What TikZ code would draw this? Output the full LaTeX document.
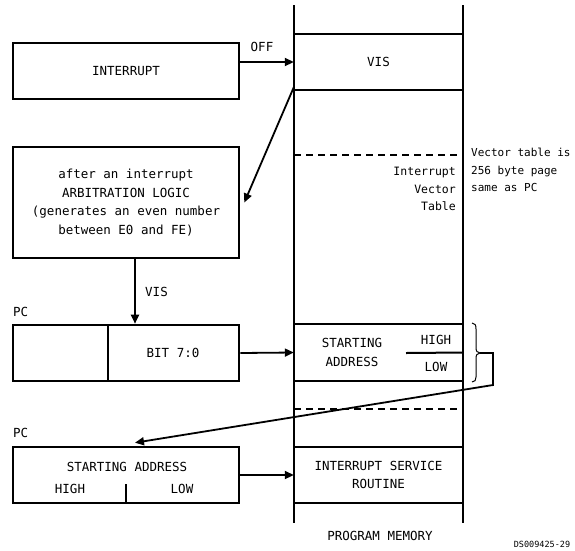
\documentclass[tikz,border=0pt]{standalone}
\usepackage{fontspec}
\setmonofont{DejaVu Sans Mono}
\usetikzlibrary{arrows.meta,calc}
\newcommand\myfontA{\ttfamily\fontsize{12.5}{18.5}\selectfont}
\newcommand\myfontB{\ttfamily\fontsize{11.5}{17.5}\selectfont}
\newcommand\myfontD{\ttfamily\fontsize{11}{17.5}\selectfont}
\newcommand\myfontC{\ttfamily\fontsize{8.5}{10}\selectfont}
\begin{document}
\begin{tikzpicture}[x=1pt,y=-1pt,
  box/.style={draw,line width=2.6pt,rectangle,inner sep=0pt,minimum width=226pt,font=\myfontA},
  cell/.style={rectangle,inner sep=0pt,minimum width=169pt,font=\myfontA},
  txt/.style={font=\myfontA,inner sep=0pt,text height=9.5pt,text depth=0pt},
  small/.style={font=\myfontB,inner sep=0pt},
  memline/.style={line width=2pt},
  memwall/.style={line width=2.8pt},
  arr/.style={line width=1.8pt,-{Triangle[length=9pt,width=8pt]}},
  thinline/.style={line width=1pt},
]
\useasboundingbox (0,0) rectangle (575,550);

% memory column walls
\draw[memwall] (294,5) -- (294,523);
\draw[memwall] (463,5) -- (463,523);

% memory cells
\node[cell,minimum height=56pt] (vis) at (378.5,62) {VIS};
\draw[memline] (vis.north west) -- (vis.north east);
\draw[memline] (vis.south west) -- (vis.south east);
\draw[memline,dash pattern=on 7pt off 5pt] (294,155) -- (463,155);
\node[small,align=right,anchor=east] (ivt) at (456,189) {Interrupt\\Vector\\Table};
\node[font=\myfontD,inner sep=0pt,align=left,anchor=west] (note) at (471,170) {Vector table is\\256 byte page\\same as PC};

\node[cell,minimum height=57pt] (sa) at (378.5,352.5) {};
\draw[memline] (sa.north west) -- (sa.north east);
\draw[memline] (sa.south west) -- (sa.south east);
\node[txt] (sat1) at (352,343) {STARTING};
\node[txt] (sat2) at (352,362) {ADDRESS};
\node[txt] (sahi) at (436,340) {HIGH};
\node[txt] (salo) at (436,367) {LOW};
\draw[memline] (406,353) -- (sa.east);
\draw[memline,dash pattern=on 7pt off 5pt] (294,409) -- (463,409);

\node[cell,minimum height=56pt,align=center] (isr) at (378.5,475) {INTERRUPT SERVICE\\ROUTINE};
\draw[memline] (isr.north west) -- (isr.north east);
\draw[memline] (isr.south west) -- (isr.south east);
\node[txt] (pm) at (380,536) {PROGRAM MEMORY};
\node[font=\myfontC,inner sep=0pt] (ds) at (542,544) {DS009425-29};

% left boxes
\node[box,minimum height=56pt] (intr) at (126,71) {INTERRUPT};
\node[box,minimum height=111pt,align=center] (arb) at (126,202.5)
  {after an interrupt\\ARBITRATION LOGIC\\(generates an even number\\between E0 and FE)};
\node[txt,anchor=west] (pcl1) at (13,312) {PC};
\node[box,minimum height=56pt] (pc1) at (126,353) {};
\draw[line width=2pt] (108,325) -- (108,381);
\node[txt] (bit) at (173,353) {BIT 7:0};
\node[txt,anchor=west] (pcl2) at (13,433) {PC};
\node[box,minimum height=56pt] (pc2) at (126,475) {};
\node[txt] (sa2) at (127,467) {STARTING ADDRESS};
\node[txt] (hi2) at (70,489) {HIGH};
\node[txt] (lo2) at (182,489) {LOW};
\draw[line width=2pt] (126,484) -- (126,503);

% connectors
\draw[arr] (intr.east |- vis.west) -- (vis.west);
\node[txt] (off) at (262,47) {OFF};
\draw[arr] ($(vis.south west)+(0,-3)$) -- ($(arb.east)+(4,0)$);
\draw[arr] ($(arb.south)+(9,0)$) -- ($(pc1.north)+(9,0)$);
\node[txt,anchor=west] (visl) at (145,292) {VIS};
\draw[arr] (pc1.east) -- (sa.west);
\draw[arr] (pc2.east) -- (isr.west);

% brace
\coordinate (bt) at (480,353);
\draw[thinline] (472,323) .. controls (475,323) and (476,325) .. (476,329) -- (476,347)
  .. controls (476,351) and (477,353) .. (bt)
  .. controls (477,353) and (476,355) .. (476,359) -- (476,377)
  .. controls (476,380) and (475,382) .. (472,382);
\draw[arr] (bt) -- (493,353) -- (493,385) -- ($(pc2.north)+(9,-3)$);
\end{tikzpicture}
\end{document}
